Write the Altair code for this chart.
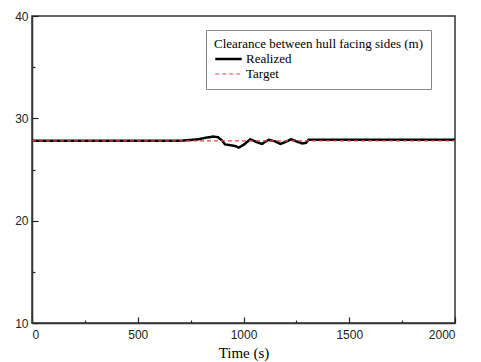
import altair as alt
import pandas as pd

# Realized clearance (m) over time (s)
real_t = [0, 700, 725, 788, 820, 859, 880, 900, 913, 930, 945, 960, 977, 1000, 1032, 1060, 1087, 1119, 1150, 1174, 1200, 1225, 1250, 1277, 1295, 1308, 2000]
real_v = [27.8, 27.8, 27.85, 27.95, 28.1, 28.22, 28.15, 27.8, 27.45, 27.4, 27.35, 27.3, 27.15, 27.4, 27.95, 27.7, 27.5, 27.9, 27.75, 27.5, 27.7, 27.95, 27.75, 27.55, 27.6, 27.9, 27.9]

# Target clearance
target_t = [0, 2000]
target_v = [27.8, 27.8]

series = ["Realized", "Target"]
x_all = [0, 250, 500, 750, 1000, 1250, 1500, 1750, 2000]
y_all = [10, 15, 20, 25, 30, 35, 40]

df = pd.concat([
    pd.DataFrame({"t": real_t, "v": real_v, "s": "Realized"}),
    pd.DataFrame({"t": target_t, "v": target_v, "s": "Target"}),
])

legend_title = "Clearance between hull facing sides (m)"

legend = alt.Legend(
    title=legend_title,
    orient="none",
    legendX=174,
    legendY=14,
    padding=8,
    fillColor="white",
    strokeColor="#888888",
    titleFont="Liberation Serif",
    titleFontSize=13,
    titleFontWeight="normal",
    titleColor="black",
    titlePadding=1,
    titleLimit=400,
    labelFont="Liberation Serif",
    labelFontSize=13,
    labelColor="black",
    labelOffset=3,
    symbolType="stroke",
    symbolSize=700,
    clipHeight=14,
    rowPadding=1,
)

chart = alt.Chart(df).mark_line(clip=True).encode(
    x=alt.X("t:Q", scale=alt.Scale(domain=[0, 2000], nice=False),
            axis=alt.Axis(
                title="Time (s)", values=x_all, format="d",
                labelExpr="datum.value % 500 === 0 ? datum.label : ''",
                tickSize={"condition": {"test": "datum.value % 500 === 0", "value": -6}, "value": -3},
                labelPadding=12,
                grid=False)),
    y=alt.Y("v:Q", scale=alt.Scale(domain=[10, 40], nice=False),
            axis=alt.Axis(
                title=None, values=y_all, format="d",
                labelExpr="datum.value % 10 === 0 ? datum.label : ''",
                tickSize={"condition": {"test": "datum.value % 10 === 0", "value": -6}, "value": -3},
                labelPadding=10,
                grid=False)),
    color=alt.Color("s:N", scale=alt.Scale(domain=series, range=["black", "#e84444"]), legend=legend),
    strokeDash=alt.StrokeDash("s:N", scale=alt.Scale(domain=series, range=[[1, 0], [4, 3]]), legend=legend),
    strokeWidth=alt.StrokeWidth("s:N", scale=alt.Scale(domain=series, range=[2.5, 1.2]), legend=legend),
    order=alt.Order("s:N"),
).properties(
    width=423, height=307,
    padding={"left": 6, "top": 2, "right": 5, "bottom": 5},
).configure_view(
    stroke="#333333", strokeWidth=1.5
).configure_axis(
    domainColor="#333333", domainWidth=1.5,
    tickColor="#222222", tickWidth=1.2,
    labelFont="Liberation Sans", labelFontSize=12, labelColor="#222222",
    titleFont="Liberation Serif", titleFontSize=15, titleFontWeight="normal", titleColor="black",
    titlePadding=5,
)

chart.save("out.html", embed_options={"renderer": "svg", "actions": False})
